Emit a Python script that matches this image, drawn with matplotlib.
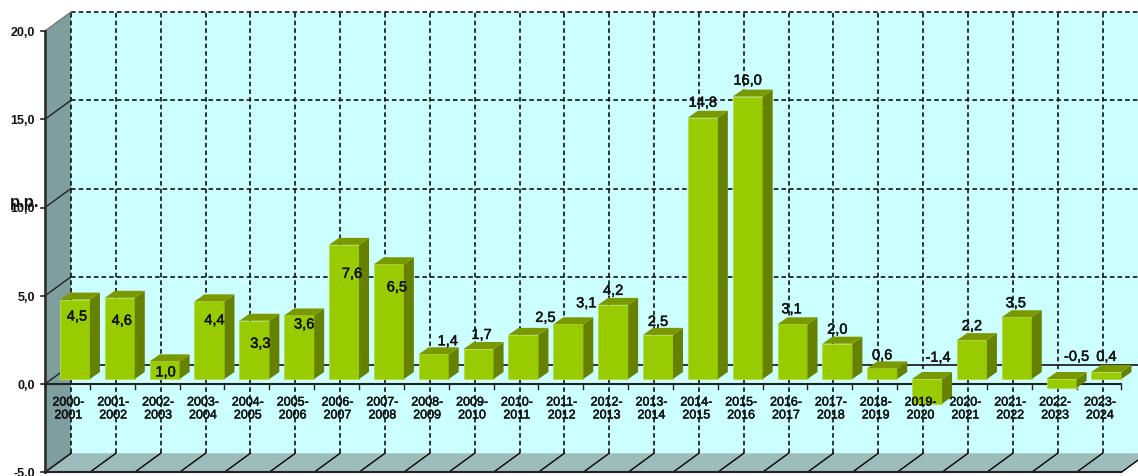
import matplotlib
matplotlib.use("Agg")
import matplotlib.pyplot as plt
import matplotlib.patheffects as pe
from matplotlib.patches import Polygon

plt.rcParams["font.family"] = ["Liberation Sans", "DejaVu Sans"]

# data
years = ["2000-\n2001", "2001-\n2002", "2002-\n2003", "2003-\n2004", "2004-\n2005", "2005-\n2006",
         "2006-\n2007", "2007-\n2008", "2008-\n2009", "2009-\n2010", "2010-\n2011", "2011-\n2012",
         "2012-\n2013", "2013-\n2014", "2014-\n2015", "2015-\n2016", "2016-\n2017", "2017-\n2018",
         "2018-\n2019", "2019-\n2020", "2020-\n2021", "2021-\n2022", "2022-\n2023", "2023-\n2024"]
values = [4.5, 4.6, 1.0, 4.4, 3.3, 3.6, 7.6, 6.5, 1.4, 1.7, 2.5, 3.1,
          4.2, 2.5, 14.8, 16.0, 3.1, 2.0, 0.6, -1.4, 2.2, 3.5, -0.5, 0.4]
yticks = [-5, 0, 5, 10, 15, 20]

# where the value labels sit relative to the bar top, in pixels
label_dx = [2, 2, 1, 5, 6, 5, 8, 8, 14, 3, 22, 18, 0, 0, 0, 0, -1, 0, 0, 11, 0, -1, 15, 0]
label_dy = [-17, -23, -11, -19, -23, -9, -29, -23, 13, 14, 17, 21, 14, 13, 15, 16, 15, 14, 13, 46, 14, 14, 31, 15]

W, H = 1138, 477
PX_X = 44.85   # pixels per category
PX_Y = 17.65   # pixels per value unit
X0, Y0 = 45, 385

# depth of the box and of the bars, in data units
DX = 26 / PX_X
DY = 19 / PX_Y
BAR_DX = 7.5 / PX_X
BAR_DY = 5 / PX_Y
SIDE_DX = 10 / PX_X
SIDE_DY = 7 / PX_Y
BAR_W = 30 / PX_X

FRONT = "#99CC00"
SIDE = "#668000"
TOP = "#7A9900"
WALL = "#CCFFFF"
LEFT = "#7F9F9F"
FLOOR = "#9CBDBB"
LINE = "#222222"

# a thin stroke thickens the regular weight a little
heavy = [pe.withStroke(linewidth=0.35, foreground="#111111")]

fig = plt.figure(figsize=(W / 100, H / 100), dpi=100)
ax = fig.add_axes([0, 0, 1, 1])
ax.set_xlim(-X0 / PX_X, (W - X0) / PX_X)
ax.set_ylim((Y0 - H) / PX_Y, Y0 / PX_Y)
ax.axis("off")

n = len(years)
ymin, ymax = yticks[0], yticks[-1]

# walls
ax.add_patch(Polygon([(DX, ymin + DY), (n + DX, ymin + DY), (n + DX, ymax + DY), (DX, ymax + DY)],
                     fc=WALL, ec="none", zorder=1))
ax.add_patch(Polygon([(0, ymin), (DX, ymin + DY), (DX, ymax + DY), (0, ymax)],
                     fc=LEFT, ec="none", zorder=1))
ax.add_patch(Polygon([(0, ymin), (n, ymin), (n + DX, ymin + DY), (DX, ymin + DY)],
                     fc=FLOOR, ec="none", zorder=1))

# grid on the back wall and floor
for i in range(n + 1):
    ax.plot([i + DX, i + DX], [ymin + DY, ymax + DY], color="black", lw=1.1, ls=(0, (3, 2)), zorder=2)
    ax.plot([i, i + DX], [ymin, ymin + DY], color="black", lw=1, zorder=2)
for v in yticks[1:]:
    if v == 0:
        ax.plot([DX, n + DX], [DY, DY], color=LINE, lw=1.3, zorder=2)
    else:
        ax.plot([DX, n + DX], [v + DY, v + DY], color="black", lw=1.1, ls=(0, (3, 2)), zorder=2)
for v in yticks:
    ax.plot([0, DX], [v, v + DY], color="#222222" if v < 20 else "#777777", lw=1, zorder=2)

# front axes
ax.plot([0, 0], [ymin, ymax], color="#333333", lw=2, zorder=3)
ax.plot([0, n], [ymin, ymin], color="#222222", lw=1.5, zorder=3)
ax.plot([0, n], [0, 0], color="#222222", lw=1.5, zorder=3)
for i in range(n + 1):
    ax.plot([i, i], [0, -5 / PX_Y], color="#222222", lw=1, zorder=3)
for v in yticks:
    ax.plot([-4 / PX_X, 0], [v, v], color="#222222", lw=1.2, zorder=3)
    ax.annotate(f"{v:.1f}".replace(".", ","), (0, v), xytext=(-10, -1), textcoords="offset pixels",
                ha="right", va="center", fontsize=9, fontweight="bold", color="#111111", zorder=8)
ax.annotate("p.p.", (0, 10), xytext=(-6, 6), textcoords="offset pixels",
            ha="right", va="center", fontsize=12, fontweight="bold", color="#111111", zorder=8)

# bars
for i, v in enumerate(values):
    x0 = i + 0.5 + BAR_DX - BAR_W / 2
    x1 = x0 + BAR_W
    base = BAR_DY
    top = base + v
    hi = max(base, top)
    lo = min(base, top)
    ax.add_patch(Polygon([(x0, lo), (x1, lo), (x1, hi), (x0, hi)], fc=FRONT, ec="#B5DC4A", lw=0.6, zorder=4))
    ax.add_patch(Polygon([(x1, lo), (x1 + SIDE_DX, lo + SIDE_DY), (x1 + SIDE_DX, hi + SIDE_DY), (x1, hi)],
                         fc=SIDE, ec="none", zorder=4))
    ax.add_patch(Polygon([(x0, hi), (x1, hi), (x1 + SIDE_DX, hi + SIDE_DY), (x0 + SIDE_DX, hi + SIDE_DY)],
                         fc=TOP, ec="none", zorder=4))
    ax.annotate(f"{v:.1f}".replace(".", ","), ((x0 + x1) / 2, top),
                xytext=(label_dx[i], label_dy[i]), textcoords="offset pixels",
                ha="center", va="center", fontsize=10.5, color="#111111", zorder=7,
                path_effects=heavy)

# category labels
for i, y in enumerate(years):
    ax.annotate(y, (i + 0.5, 0), xytext=(1, -25), textcoords="offset pixels",
                ha="center", va="center", fontsize=9, color="#111111", linespacing=1.1, zorder=6,
                path_effects=heavy)

fig.savefig("out.png", dpi=100, facecolor="white")
